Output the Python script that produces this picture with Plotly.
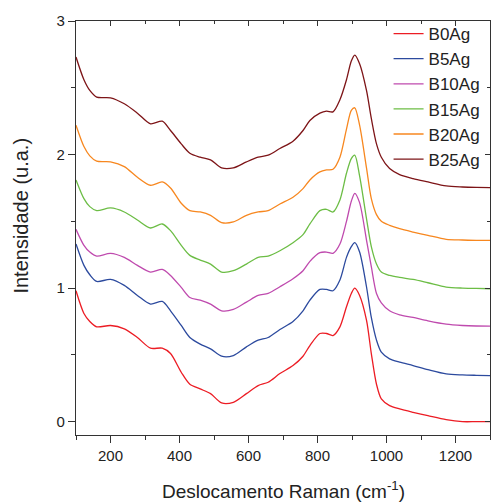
import plotly.graph_objects as go

# Raman shift (cm-1) sample positions
shift = [100, 123, 140, 160, 200, 240, 278, 316, 350, 374, 405, 430, 460, 490, 522, 556,
         594, 628, 657, 691, 729, 758, 778, 807, 826, 845, 865, 884, 898, 908, 922, 942,
         956, 971, 985, 1009, 1038, 1077, 1120, 1173, 1220, 1260, 1300]

B0Ag = [0.98, 0.81, 0.75, 0.71, 0.72, 0.695, 0.63, 0.55, 0.55, 0.51, 0.37, 0.28, 0.245, 0.21, 0.14, 0.145,
        0.21, 0.27, 0.295, 0.36, 0.42, 0.49, 0.57, 0.66, 0.66, 0.645, 0.71, 0.86, 0.96, 1.0, 0.945, 0.76,
        0.51, 0.28, 0.17, 0.12, 0.095, 0.07, 0.045, 0.015, 0.0, 0.0, 0.0]

B5Ag = [1.33, 1.17, 1.10, 1.05, 1.065, 1.02, 0.945, 0.88, 0.90, 0.83, 0.72, 0.63, 0.58, 0.545, 0.49, 0.495,
        0.56, 0.61, 0.63, 0.69, 0.75, 0.83, 0.91, 0.99, 0.99, 0.98, 1.06, 1.23, 1.31, 1.34, 1.27, 1.01,
        0.78, 0.61, 0.52, 0.47, 0.445, 0.42, 0.39, 0.358, 0.35, 0.347, 0.345]

B10Ag = [1.44, 1.32, 1.27, 1.24, 1.26, 1.23, 1.17, 1.12, 1.14, 1.095, 1.005, 0.93, 0.91, 0.88, 0.83, 0.84,
         0.895, 0.945, 0.96, 1.01, 1.07, 1.13, 1.20, 1.265, 1.27, 1.26, 1.33, 1.50, 1.65, 1.71, 1.64, 1.36,
         1.16, 0.96, 0.89, 0.83, 0.80, 0.78, 0.755, 0.73, 0.72, 0.716, 0.715]

B15Ag = [1.81, 1.67, 1.61, 1.58, 1.60, 1.57, 1.51, 1.45, 1.48, 1.43, 1.32, 1.245, 1.21, 1.18, 1.12, 1.13,
         1.18, 1.23, 1.24, 1.28, 1.34, 1.40, 1.48, 1.58, 1.59, 1.57, 1.66, 1.86, 1.97, 1.995, 1.84, 1.52,
         1.31, 1.18, 1.12, 1.095, 1.08, 1.065, 1.04, 1.008, 1.0, 0.998, 0.995]

B20Ag = [2.22, 2.06, 1.99, 1.95, 1.945, 1.91, 1.83, 1.77, 1.795, 1.75, 1.635, 1.58, 1.57, 1.545, 1.49, 1.495,
         1.545, 1.57, 1.58, 1.63, 1.68, 1.745, 1.81, 1.87, 1.885, 1.89, 1.98, 2.19, 2.33, 2.35, 2.22, 1.90,
         1.67, 1.55, 1.50, 1.47, 1.445, 1.42, 1.395, 1.365, 1.36, 1.358, 1.357]

B25Ag = [2.73, 2.56, 2.48, 2.43, 2.425, 2.38, 2.31, 2.23, 2.25, 2.18, 2.08, 2.01, 1.98, 1.96, 1.90, 1.90,
         1.945, 1.98, 1.995, 2.045, 2.10, 2.18, 2.255, 2.31, 2.325, 2.32, 2.41, 2.56, 2.70, 2.745, 2.68, 2.48,
         2.27, 2.08, 1.98, 1.895, 1.85, 1.82, 1.795, 1.765, 1.757, 1.754, 1.753]

names = ["B0Ag", "B5Ag", "B10Ag", "B15Ag", "B20Ag", "B25Ag"]
series = [B0Ag, B5Ag, B10Ag, B15Ag, B20Ag, B25Ag]
colors = ["#ec1c24", "#2c4a9e", "#bf4aae", "#6cbd45", "#f7871f", "#7d1417"]

x_tickvals = [200, 400, 600, 800, 1000, 1200]
y_tickvals = [0, 1, 2, 3]

FONT = "Liberation Sans, Arial, sans-serif"
AX = "#333333"
TXT = "#222222"

fig = go.Figure()
for n, s, c in zip(names, series, colors):
    fig.add_trace(go.Scatter(x=shift, y=s, mode="lines", name=n,
                             line=dict(color=c, width=1.3, shape="spline", smoothing=0.8)))

# invisible trace for mirrored (inner-tick) axes
fig.add_trace(go.Scatter(x=[shift[0]], y=[B0Ag[0]], xaxis="x2", yaxis="y2", mode="lines",
                         showlegend=False, hoverinfo="skip", line=dict(width=0)))

common_x = dict(range=[100, 1300], tickvals=x_tickvals, showgrid=False, zeroline=False,
                showline=True, linecolor=AX, linewidth=1.2, tickcolor=AX, tickwidth=1.2)
common_y = dict(range=[-0.1, 3.0], tickvals=y_tickvals, showgrid=False, zeroline=False,
                showline=True, linecolor=AX, linewidth=1.2, tickcolor=AX, tickwidth=1.2)

fig.update_layout(
    width=491, height=504,
    margin=dict(l=76, r=1, t=21, b=69),
    plot_bgcolor="white", paper_bgcolor="white",
    font=dict(family=FONT, color=TXT, size=15),
    xaxis=dict(**common_x, ticks="outside", ticklen=7,
               minor=dict(dtick=100, tick0=100, ticks="outside", ticklen=4, tickcolor=AX),
               tickfont=dict(size=15, color=TXT)),
    yaxis=dict(**common_y, ticks="outside", ticklen=7,
               minor=dict(dtick=0.5, tick0=0, ticks="outside", ticklen=4, tickcolor=AX),
               tickfont=dict(size=15, color=TXT)),
    xaxis2=dict(**common_x, overlaying="x", side="top", anchor="y2", ticks="inside", ticklen=5,
                showticklabels=False,
                minor=dict(dtick=100, tick0=100, ticks="inside", ticklen=3, tickcolor=AX)),
    yaxis2=dict(**common_y, overlaying="y", side="right", anchor="x2", ticks="inside", ticklen=5,
                showticklabels=False,
                minor=dict(dtick=0.5, tick0=0, ticks="inside", ticklen=3, tickcolor=AX)),
    legend=dict(x=0.755, y=1.012, xanchor="left", yanchor="top", bgcolor="rgba(0,0,0,0)",
                font=dict(size=17, color=TXT, family=FONT), tracegroupgap=0),
    showlegend=True,
    annotations=[
        dict(text="Deslocamento Raman (cm<sup>-1</sup>)", xref="paper", yref="paper",
             x=0.5, y=0, yshift=-55, xanchor="center", yanchor="middle", showarrow=False,
             font=dict(size=19, color=TXT, family=FONT)),
        dict(text="Intensidade (u.a.)", xref="paper", yref="paper", textangle=-90,
             x=0, xshift=-55, y=0.53, xanchor="center", yanchor="middle", showarrow=False,
             font=dict(size=20, color=TXT, family=FONT)),
    ],
)

fig.write_html("out.html")
